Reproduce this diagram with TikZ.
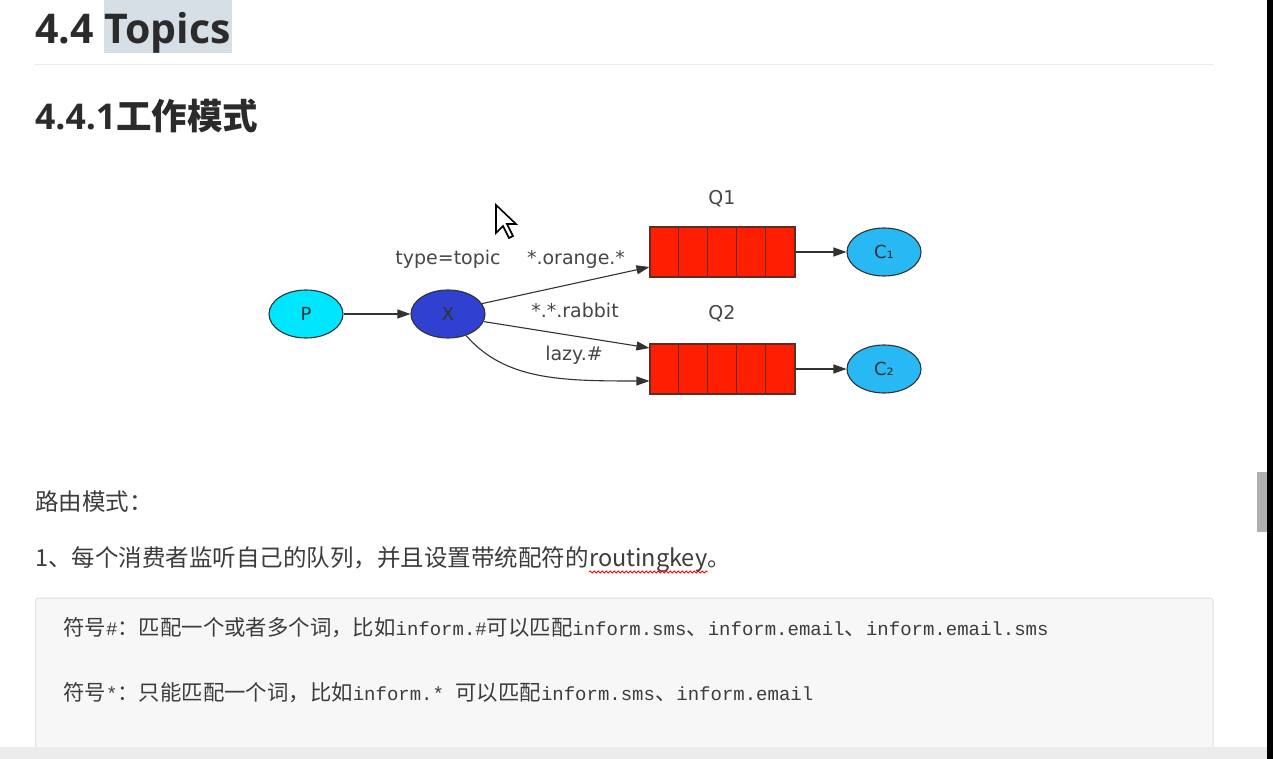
\documentclass[tikz,border=0pt]{standalone}
\usepackage{fontspec}
\setmainfont{DejaVu Sans}
\newfontfamily\cjk{Noto Sans CJK SC}
\newfontfamily\osb{Open Sans}
\newfontfamily\mono{Liberation Mono}
\newfontfamily\dv{DejaVu Sans}
\usetikzlibrary{arrows.meta,shapes.geometric,calc,decorations.pathmorphing}
\definecolor{ink}{RGB}{43,43,43}
\definecolor{bodyc}{RGB}{60,60,60}
\definecolor{hl}{RGB}{214,222,230}
\definecolor{rulec}{RGB}{234,234,234}
\definecolor{pcol}{RGB}{0,230,255}
\definecolor{xcol}{RGB}{48,64,208}
\definecolor{ccol}{RGB}{40,185,245}
\definecolor{qcol}{RGB}{255,30,0}
\definecolor{edgec}{RGB}{50,50,50}
\definecolor{lblc}{RGB}{70,70,70}
\definecolor{codefill}{RGB}{247,247,247}
\definecolor{codeedge}{RGB}{225,225,225}
\definecolor{strip}{RGB}{236,236,236}
\definecolor{sb}{RGB}{175,175,175}
\newcommand{\cjkc}{\cjk\fontsize{21.4}{22}\selectfont}
\newcommand{\monoc}{\mono\fontsize{19}{22}\selectfont}
\tikzset{
  ell/.style={ellipse, draw=edgec, line width=1.1pt, minimum width=74pt, minimum height=48pt, inner sep=0pt, font=\dv\fontsize{18}{18}\selectfont, text=edgec},
  queue/.style={rectangle, draw=edgec!80!qcol, line width=1.1pt, fill=qcol, minimum width=145pt, minimum height=50pt, inner sep=0pt},
  lbl/.style={inner sep=0pt, font=\dv\fontsize{19}{19}\selectfont, text=lblc},
  edge/.style={draw=edgec, line width=1.1pt, -{Triangle[length=13pt,width=9pt]}},
  body/.style={anchor=base west, inner sep=0pt, font=\cjk\fontsize{23.5}{24}\selectfont, text=bodyc},
  code/.style={anchor=base west, inner sep=0pt, text=bodyc}
}
\begin{document}
\begin{tikzpicture}[x=1pt,y=-1pt]
\useasboundingbox (0,0) rectangle (1273,759);
\fill[white] (0,0) rectangle (1273,759);
% headings
\fill[hl] (104,0) rectangle (232,53);
\node[anchor=base west, inner sep=0pt, text=ink, font=\osb\bfseries\fontsize{41}{41}\selectfont] (title) at (35,44) {4.4 Topics};
\draw[rulec, line width=1pt] (35,65) -- (1213,65);
\node[anchor=base west, inner sep=0pt, text=ink] (sub) at (35,130) {\fontsize{35.5}{36}\selectfont\osb\bfseries 4.4.1\cjk\bfseries 工作模式};
% diagram
\node[ell, fill=pcol] (P) at (306,314) {P};
\node[ell, fill=xcol] (X) at (448,314) {X};
\node[queue] (Q1) at (722.5,252) {};
\node[queue] (Q2) at (722.5,369) {};
\foreach \q in {Q1,Q2}{
  \foreach \i in {1,...,4}{
    \draw[edgec!80!qcol, line width=1.1pt] ($(\q.north west)+(29*\i,0)$) -- ($(\q.south west)+(29*\i,0)$);
  }
}
\node[ell, fill=ccol] (C1) at (884,252) {C₁};
\node[ell, fill=ccol] (C2) at (884,369) {C₂};
\node[lbl] (q1l) at (722,199) {Q1};
\node[lbl] (q2l) at (722,314) {Q2};
\node[lbl] (tl) at (448,259) {type=topic};
\node[lbl] (ol) at (576,259) {*.orange.*};
\node[lbl] (rl) at (575,310) {*.*.rabbit};
\node[lbl] (ll) at (574,355) {lazy.\#};
\draw[edge] (P) -- (X);
\draw[edge] (X.17) -- ([yshift=-15pt]Q1.west);
\draw[edge] (X.-12) -- ([yshift=21pt]Q2.west);
\draw[edge] (X.-50) .. controls (505,380) and (560,381) .. ([yshift=-12pt]Q2.west);
\draw[edge] (Q1) -- (C1);
\draw[edge] (Q2) -- (C2);
% cursor
\draw[fill=white, line width=1.6pt, line join=miter] (496,205) -- (496,233) -- (503,226) -- (509,238) -- (513,236) -- (507,224) -- (516,224) -- cycle;
% body text
\node[body] (b1) at (35,510) {路由模式：};
\node[body] (b2) at (35,566) {1、每个消费者监听自己的队列，并且设置带统配符的};
\node[body] (rk) at (b2.base east) {routingkey};
\node[body] (b3) at (rk.base east) {。};
\draw[red, line width=0.8pt, decorate, decoration={snake,amplitude=1pt,segment length=4pt}] ([yshift=-6pt]rk.base west) -- ([yshift=-6pt]rk.base east);
% code box
\draw[fill=codefill, draw=codeedge, line width=1pt, rounded corners=3pt] (35.5,598) rectangle (1213,780);
\node[code] (c1) at (63,635) {\cjkc 符号\monoc\#\cjkc ：匹配一个或者多个词，比如\monoc inform.\#\cjkc 可以匹配\monoc inform.sms\cjkc 、\monoc inform.email\cjkc 、\monoc inform.email.sms};
\node[code] (c2) at (63,700) {\cjkc 符号\monoc *\cjkc ：只能匹配一个词，比如\monoc inform.*\ \cjkc 可以匹配\monoc inform.sms\cjkc 、\monoc inform.email};
% window chrome
\fill[strip] (0,747) rectangle (1267,759);
\fill[black] (1267,0) rectangle (1273,759);
\fill[sb] (1257,472) rectangle (1267,532);
\end{tikzpicture}
\end{document}
